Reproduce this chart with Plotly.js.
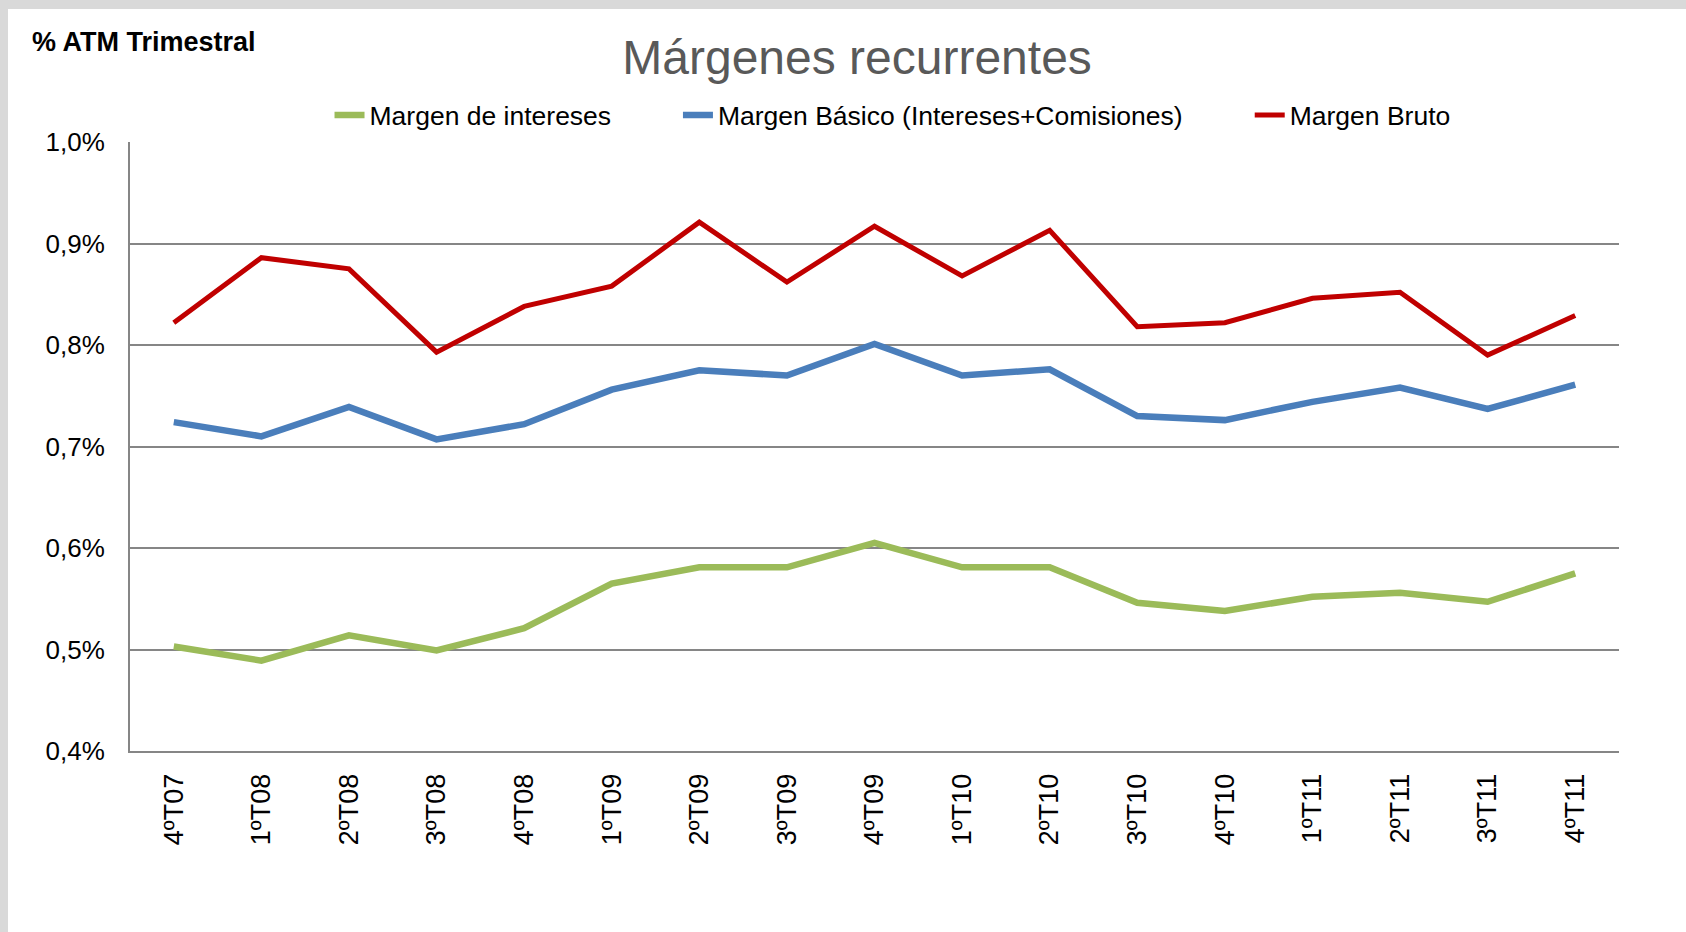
<!DOCTYPE html>
<html>
<head>
<meta charset="utf-8">
<script src="https://cdn.plot.ly/plotly-3.0.1.min.js"></script>
<style>
  html, body { margin: 0; padding: 0; background: #d9d9d9; width: 1686px; height: 932px; overflow: hidden; }
  #chart { position: absolute; left: 8px; top: 9px; width: 1678px; height: 923px; background: #ffffff; }
</style>
</head>
<body>
<div id="chart"></div>
<script>
const quarters = ["4ºT07","1ºT08","2ºT08","3ºT08","4ºT08","1ºT09","2ºT09","3ºT09","4ºT09","1ºT10","2ºT10","3ºT10","4ºT10","1ºT11","2ºT11","3ºT11","4ºT11"];
const margenIntereses = [0.503,0.489,0.514,0.499,0.521,0.565,0.581,0.581,0.605,0.581,0.581,0.546,0.538,0.552,0.556,0.547,0.575];
const margenBasico    = [0.724,0.710,0.739,0.707,0.722,0.756,0.775,0.770,0.801,0.770,0.776,0.730,0.726,0.744,0.758,0.737,0.761];
const margenBruto     = [0.822,0.886,0.875,0.793,0.838,0.858,0.921,0.862,0.917,0.868,0.913,0.818,0.822,0.846,0.852,0.790,0.829];
const seriesNames = ["Margen de intereses","Margen Básico (Intereses+Comisiones)","Margen Bruto"];
const yTickVals = [0.4,0.5,0.6,0.7,0.8,0.9,1.0];
const yTickText = ["0,4%","0,5%","0,6%","0,7%","0,8%","0,9%","1,0%"];

const FONT = "Liberation Sans, Arial, sans-serif";

const traces = [
  {x: quarters, y: margenIntereses, name: seriesNames[0], type: "scatter", mode: "lines",
   line: {color: "#9bbb59", width: 6.5}, legend: "legend"},
  {x: quarters, y: margenBasico, name: seriesNames[1], type: "scatter", mode: "lines",
   line: {color: "#4a7ebb", width: 6.5}, legend: "legend2"},
  {x: quarters, y: margenBruto, name: seriesNames[2], type: "scatter", mode: "lines",
   line: {color: "#c00000", width: 5}, legend: "legend3"}
];

const legendBase = {orientation: "h", xanchor: "left", y: 1.044, yanchor: "middle",
  font: {family: FONT, size: 26.5, color: "#000000"}, bgcolor: "rgba(0,0,0,0)"};

const layout = {
  width: 1678, height: 923,
  paper_bgcolor: "#ffffff", plot_bgcolor: "#ffffff",
  margin: {l: 122, r: 67, t: 133, b: 181, pad: 0},
  font: {family: FONT, size: 26, color: "#000000"},
  title: {text: "Márgenes recurrentes", font: {family: FONT, size: 48, color: "#595959"},
          xref: "container", x: 0.506, xanchor: "center", yref: "container", y: 0.948, yanchor: "middle"},
  showlegend: true,
  legend: Object.assign({}, legendBase, {x: 0.134}),
  legend2: Object.assign({}, legendBase, {x: 0.368}),
  legend3: Object.assign({}, legendBase, {x: 0.752}),
  xaxis: {type: "category", range: [-0.5, 16.5], showgrid: false, zeroline: false,
          showline: true, linecolor: "#868686", linewidth: 2, ticks: "", tickangle: -90,
          ticklabelstandoff: 10, tickfont: {family: FONT, size: 27, color: "#000000"}, fixedrange: true},
  yaxis: {range: [0.4, 1.0], tickvals: yTickVals, ticktext: yTickText, showgrid: true,
          gridcolor: "#868686", gridwidth: 2, zeroline: false, showline: true, linecolor: "#868686",
          linewidth: 2, ticks: "", ticklabelstandoff: 18, tickfont: {family: FONT, size: 26, color: "#000000"}, fixedrange: true},
  annotations: [
    {text: "<b>% ATM Trimestral</b>", xref: "paper", yref: "paper", x: -0.067, y: 1.164,
     xanchor: "left", yanchor: "middle", showarrow: false, font: {family: FONT, size: 27, color: "#000000"}}
  ]
};

Plotly.newPlot("chart", traces, layout, {displayModeBar: false, staticPlot: true});
</script>
</body>
</html>
